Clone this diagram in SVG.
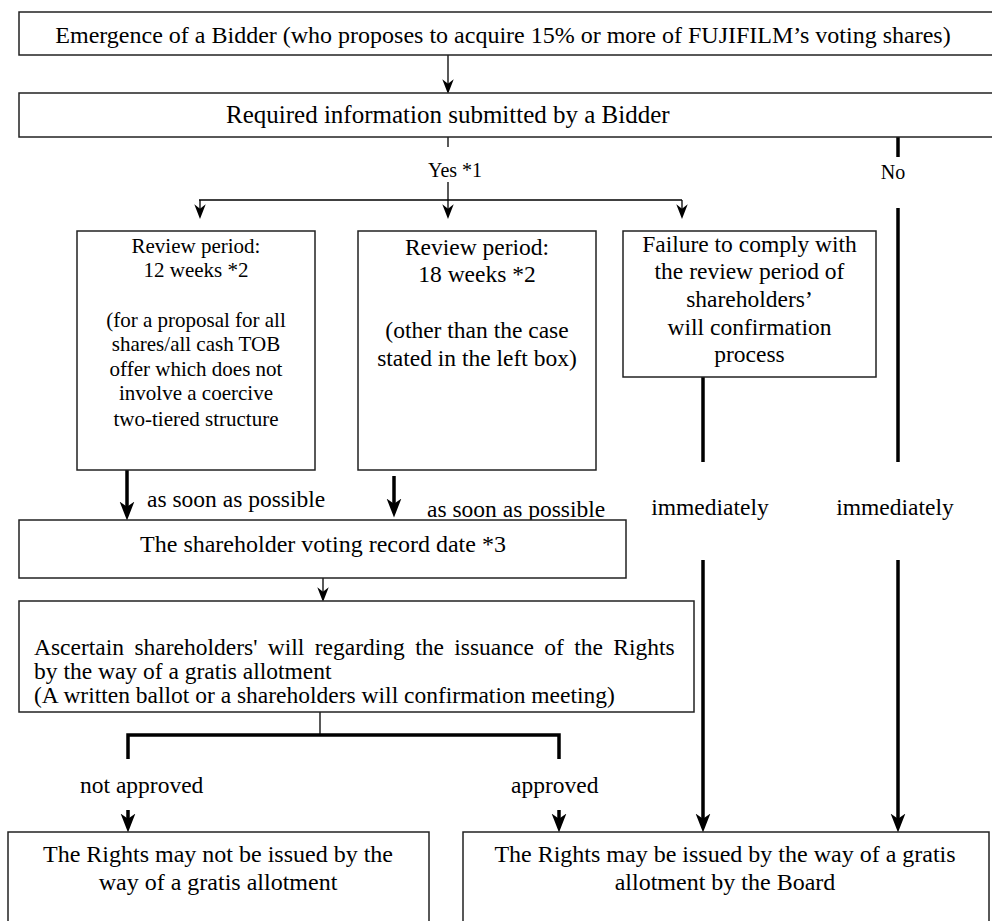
<svg xmlns="http://www.w3.org/2000/svg" width="992" height="921" viewBox="0 0 992 921">
<style>
.box{fill:#fff;stroke:#222;stroke-width:1.5}
.t{font-family:"Liberation Serif","Times New Roman",serif;fill:#000}
.c{text-anchor:middle}
.thin{stroke:#000;stroke-width:1.3;fill:none}
.thick{stroke:#000;stroke-width:3.5;fill:none}
</style>
<defs>
<marker id="ah" markerUnits="userSpaceOnUse" markerWidth="16" markerHeight="12" refX="6" refY="5" orient="auto" viewBox="0 0 14 10">
<path d="M0,0 L13,5 L0,10 L4,5 Z" fill="#000"/>
</marker>
<marker id="ahb" markerUnits="userSpaceOnUse" markerWidth="20" markerHeight="16" refX="8" refY="7" orient="auto" viewBox="0 0 19 14">
<path d="M0,0 L18,7 L0,14 L5,7 Z" fill="#000"/>
</marker>
</defs>
<rect width="992" height="921" fill="#fff"/>

<g id="connectors">
<line class="thin" x1="448" y1="55" x2="448" y2="86" marker-end="url(#ah)"/>
<line class="thin" x1="448" y1="137" x2="448" y2="147"/>
<line class="thin" x1="448" y1="182" x2="448" y2="200"/>
<line class="thin" x1="199" y1="200" x2="682" y2="200"/>
<line class="thin" x1="200" y1="200" x2="200" y2="211" marker-end="url(#ah)"/>
<line class="thin" x1="448" y1="200" x2="448" y2="211" marker-end="url(#ah)"/>
<line class="thin" x1="682" y1="200" x2="682" y2="211" marker-end="url(#ah)"/>
<line class="thick" x1="898" y1="133" x2="898" y2="157"/>
<line class="thick" x1="898" y1="208" x2="898" y2="462"/>
<line class="thick" x1="703" y1="373" x2="703" y2="462"/>
<line class="thick" x1="703" y1="560" x2="703" y2="822" marker-end="url(#ahb)"/>
<line class="thick" x1="898" y1="560" x2="898" y2="822" marker-end="url(#ahb)"/>
<line class="thick" x1="127" y1="470" x2="127" y2="510" marker-end="url(#ahb)"/>
<line class="thick" x1="394" y1="476" x2="394" y2="507" marker-end="url(#ahb)"/>
<line class="thin" x1="323" y1="578" x2="323" y2="594" marker-end="url(#ah)"/>
<line class="thin" x1="320" y1="712" x2="320" y2="735"/>
<polyline class="thick" points="128,759 128,735 559,735 559,759"/>
<line class="thick" x1="128" y1="810" x2="128" y2="822" marker-end="url(#ahb)"/>
<line class="thick" x1="559" y1="810" x2="559" y2="822" marker-end="url(#ahb)"/>
</g>

<g id="labels" class="t" font-size="23.5">
<text x="428" y="177" font-size="20">Yes *1</text>
<text x="893" y="179" font-size="20" class="c">No</text>
<text x="147" y="507">as soon as possible</text>
<text x="427" y="517">as soon as possible</text>
<text x="710" y="515" class="c">immediately</text>
<text x="895" y="515" class="c">immediately</text>
<text x="80" y="793">not approved</text>
<text x="511" y="793">approved</text>
</g>

<g id="n-emergence">
<rect class="box" x="19" y="12" width="990" height="43"/>
<text class="t c" x="503" y="43" font-size="24">Emergence of a Bidder (who proposes to acquire 15% or more of FUJIFILM’s voting shares)</text>
</g>

<g id="n-required">
<rect class="box" x="19" y="93" width="990" height="44"/>
<text class="t" x="226" y="123" font-size="25">Required information submitted by a Bidder</text>
</g>

<g id="n-review12">
<rect class="box" x="77" y="231" width="238" height="239"/>
<g class="t c" font-size="21">
<text x="196" y="253">Review period:</text>
<text x="196" y="277">12 weeks *2</text>
<text x="196" y="327">(for a proposal for all</text>
<text x="196" y="351">shares/all cash TOB</text>
<text x="196" y="376">offer which does not</text>
<text x="196" y="400">involve a coercive</text>
<text x="196" y="426">two-tiered structure</text>
</g>
</g>

<g id="n-review18">
<rect class="box" x="358" y="231" width="238" height="239"/>
<g class="t c" font-size="23.5">
<text x="477" y="255">Review period:</text>
<text x="477" y="282">18 weeks *2</text>
<text x="477" y="338">(other than the case</text>
<text x="477" y="366">stated in the left box)</text>
</g>
</g>

<g id="n-failure">
<rect class="box" x="623" y="231" width="253" height="146"/>
<g class="t c" font-size="23.5">
<text x="749.5" y="252">Failure to comply with</text>
<text x="749.5" y="279">the review period of</text>
<text x="749.5" y="307">shareholders’</text>
<text x="749.5" y="335">will confirmation</text>
<text x="749.5" y="362">process</text>
</g>
</g>

<g id="n-record">
<rect class="box" x="19" y="520" width="607" height="58"/>
<text class="t c" x="323" y="552" font-size="24">The shareholder voting record date *3</text>
</g>

<g id="n-ascertain">
<rect class="box" x="19" y="601" width="675" height="111"/>
<g class="t" font-size="23.5">
<text x="34" y="655" word-spacing="4.5">Ascertain shareholders' will regarding the issuance of the Rights</text>
<text x="34" y="679">by the way of a gratis allotment</text>
<text x="34" y="703">(A written ballot or a shareholders will confirmation meeting)</text>
</g>
</g>

<g id="n-notissued">
<rect class="box" x="8" y="832" width="421" height="100"/>
<g class="t c" font-size="24">
<text x="218" y="862">The Rights may not be issued by the</text>
<text x="218" y="890">way of a gratis allotment</text>
</g>
</g>

<g id="n-issued">
<rect class="box" x="463" y="832" width="526" height="100"/>
<g class="t c" font-size="24">
<text x="725" y="862">The Rights may be issued by the way of a gratis</text>
<text x="725" y="890">allotment by the Board</text>
</g>
</g>
</svg>
